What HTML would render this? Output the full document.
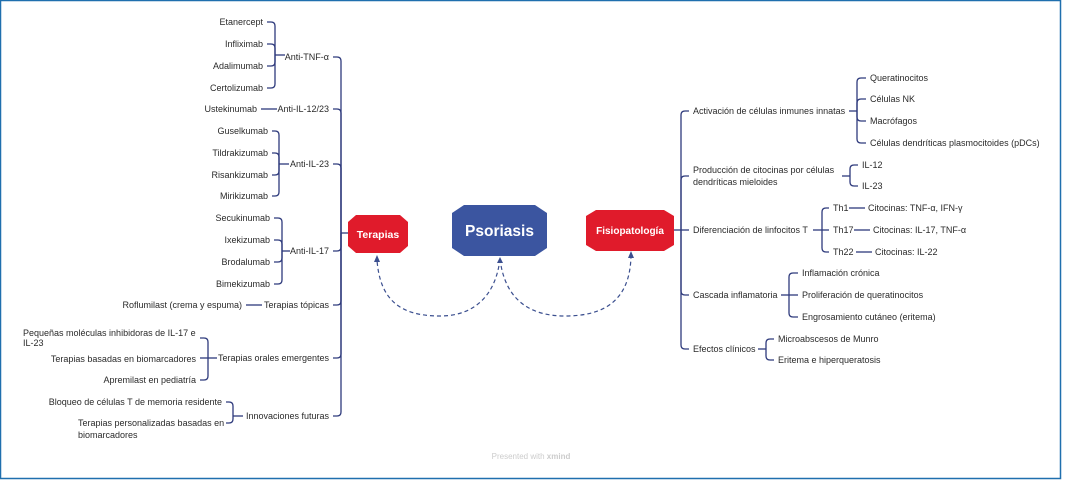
<!DOCTYPE html>
<html><head><meta charset="utf-8">
<style>
html,body{margin:0;padding:0;background:#fff}
svg{display:block}
text{font-family:"Liberation Sans",sans-serif;font-size:9px;fill:#2a2a2a}
</style></head><body>
<svg id="s" width="1065" height="481" viewBox="0 0 1065 481" xmlns="http://www.w3.org/2000/svg">
<rect x="0.5" y="0.5" width="1060" height="478" fill="#fff" stroke="#1f6fae" stroke-width="1.5"/>
<g id="lines" fill="none" stroke="#2e3a7c" stroke-width="1.3"></g>
<g id="txt"></g>
<polygon points="356,215 400,215 408,222 408,246 400,253 356,253 348,246 348,222" fill="#e01b2b"/>
<text x="378" y="238" text-anchor="middle" style="font-size:10.5px;font-weight:bold;fill:#fff">Terapias</text>
<polygon points="464,205 535,205 547,213 547,248 535,256 464,256 452,248 452,213" fill="#3b55a0"/>
<text x="499.5" y="236" text-anchor="middle" style="font-size:15.5px;font-weight:bold;fill:#fff">Psoriasis</text>
<polygon points="596,210 664,210 674,216 674,245 664,251 596,251 586,245 586,216" fill="#e01b2b"/>
<text x="630" y="234" text-anchor="middle" style="font-size:10px;font-weight:bold;fill:#fff">Fisiopatología</text>
<g fill="none" stroke="#3b4f8f" stroke-width="1.2" stroke-dasharray="4,3">
<path d="M500,259 C495,300 470,316 440,316 C400,316 380,300 377,260"/>
<path d="M500,259 C505,300 530,316 565,316 C605,316 630,300 631,256"/>
</g>
<polygon points="377,255 374,262 380,262" fill="#3b4f8f"/>
<polygon points="631,251 628,258 634,258" fill="#3b4f8f"/>
<polygon points="500,257 497,263 503,263" fill="#3b4f8f"/>
<text x="531" y="459" text-anchor="middle" style="font-size:8px;fill:#ccc">Presented with <tspan style="font-weight:bold">xmind</tspan></text>
</svg>
<script>
var L=document.getElementById('lines'),T=document.getElementById('txt');
function p(d){var e=document.createElementNS('http://www.w3.org/2000/svg','path');e.setAttribute('d',d);L.appendChild(e);}
function t(x,y,s,a){var e=document.createElementNS('http://www.w3.org/2000/svg','text');e.setAttribute('x',x);e.setAttribute('y',y+3);if(a)e.setAttribute('text-anchor',a);e.textContent=s;T.appendChild(e);}
function br(px,py,bx,ys,cx,dir){
  p('M'+px+' '+py+' L'+bx+' '+py);
  var r=4;
  ys.forEach(function(y){
    if(Math.abs(y-py)<1){p('M'+bx+' '+py+' L'+cx+' '+y);return;}
    var s=y>py?1:-1;
    p('M'+bx+' '+py+' L'+bx+' '+(y-s*r)+' Q'+bx+' '+y+' '+(bx+dir*r)+' '+y+' L'+cx+' '+y);
  });
}
br(348,233,341,[57,109,164,251,305,358,416],333,-1);
[[57,'Anti-TNF-α'],[109,'Anti-IL-12/23'],[164,'Anti-IL-23'],[251,'Anti-IL-17'],[305,'Terapias tópicas'],[358,'Terapias orales emergentes'],[416,'Innovaciones futuras']].forEach(function(a){t(329,a[0],a[1],'end');});
br(285,55,275,[22,44,66,88],267,-1);
['Etanercept','Infliximab','Adalimumab','Certolizumab'].forEach(function(s,i){t(263,[22,44,66,88][i],s,'end');});
p('M277 109 L261 109');t(257,109,'Ustekinumab','end');
br(289,164,279,[131,153,175,196],272,-1);
['Guselkumab','Tildrakizumab','Risankizumab','Mirikizumab'].forEach(function(s,i){t(268,[131,153,175,196][i],s,'end');});
br(290,251,282,[218,240,262,284],274,-1);
['Secukinumab','Ixekizumab','Brodalumab','Bimekizumab'].forEach(function(s,i){t(270,[218,240,262,284][i],s,'end');});
p('M262 305 L246 305');t(242,305,'Roflumilast (crema y espuma)','end');
br(217,358,208,[338,358,380],200,-1);
t(23,333,'Pequeñas moléculas inhibidoras de IL-17 e');t(23,343,'IL-23');
t(196,359,'Terapias basadas en biomarcadores','end');t(196,380,'Apremilast en pediatría','end');
br(243,416,233,[402,423],226,-1);
t(222,402,'Bloqueo de células T de memoria residente','end');
t(78,423,'Terapias personalizadas basadas en');t(78,435,'biomarcadores');
br(674,230,681,[111,176,230,295,349],689,1);
t(693,111,'Activación de células inmunes innatas');
t(693,170,'Producción de citocinas por células');t(693,182,'dendríticas mieloides');
t(693,230,'Diferenciación de linfocitos T');
t(693,295,'Cascada inflamatoria');
t(693,349,'Efectos clínicos');
br(849,111,857,[78,99,121,143],866,1);
['Queratinocitos','Células NK','Macrófagos','Células dendríticas plasmocitoides (pDCs)'].forEach(function(s,i){t(870,[78,99,121,143][i],s);});
br(842,176,850,[165,186],858,1);t(862,165,'IL-12');t(862,186,'IL-23');
br(813,230,822,[208,230,252],829,1);
t(833,208,'Th1');p('M849 208 L865 208');t(868,208,'Citocinas: TNF-α, IFN-γ');
t(833,230,'Th17');p('M854 230 L870 230');t(873,230,'Citocinas: IL-17, TNF-α');
t(833,252,'Th22');p('M856 252 L872 252');t(875,252,'Citocinas: IL-22');
br(781,295,789,[273,295,317],798,1);
['Inflamación crónica','Proliferación de queratinocitos','Engrosamiento cutáneo (eritema)'].forEach(function(s,i){t(802,[273,295,317][i],s);});
br(758,349,766,[339,360],774,1);t(778,339,'Microabscesos de Munro');t(778,360,'Eritema e hiperqueratosis');
</script>
</body></html>
